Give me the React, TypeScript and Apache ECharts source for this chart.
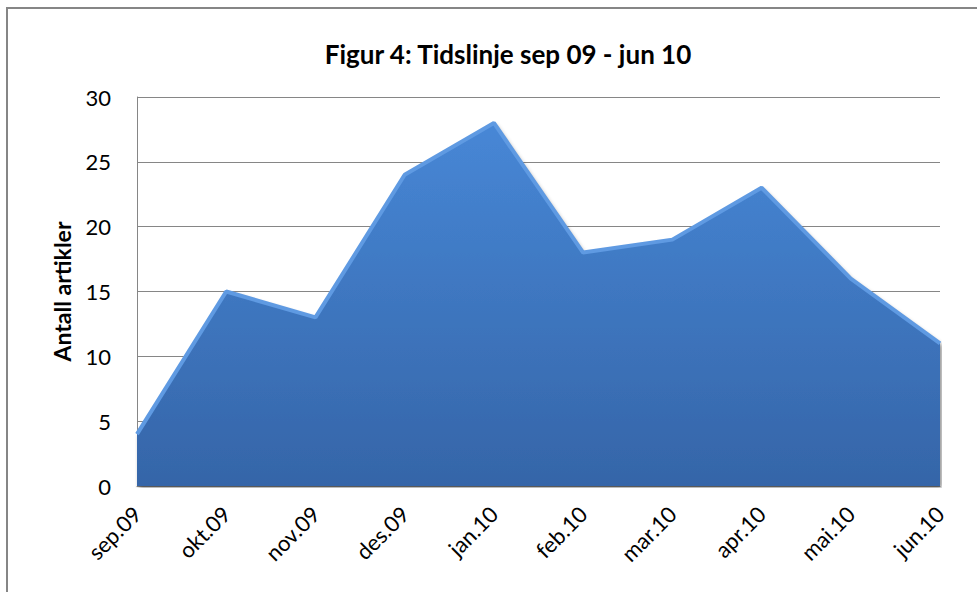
import React, { useEffect, useRef } from "react";
import * as echarts from "echarts";

const categories = ["sep.09", "okt.09", "nov.09", "des.09", "jan.10", "feb.10", "mar.10", "apr.10", "mai.10", "jun.10"];
const values = [4, 15, 13, 24, 28, 18, 19, 23, 16, 11];
const titleText = "Figur 4: Tidslinje sep 09 - jun 10";
const yAxisName = "Antall artikler";

export default function App() {
  const ref = useRef<HTMLDivElement>(null);
  useEffect(() => {
    if (!ref.current) return;
    const chart = echarts.init(ref.current, undefined, { renderer: "svg" });
    chart.setOption({
      animation: false,
      backgroundColor: "#ffffff",
      title: {
        text: titleText,
        left: 503,
        textAlign: "center",
        top: 36,
        textStyle: { fontFamily: "Lato", fontSize: 26, fontWeight: "bold", color: "#000" },
      },
      graphic: [
        {
          type: "rect",
          shape: { x: 7, y: 8, width: 1100, height: 1000 },
          style: { fill: "none", stroke: "#868686", lineWidth: 2 },
          silent: true,
        },
      ],
      grid: { left: 137, right: 37, top: 97, bottom: 106 },
      xAxis: {
        type: "category",
        data: categories,
        boundaryGap: false,
        axisLine: { show: true, lineStyle: { color: "#868686", width: 1 } },
        axisTick: { show: false },
        axisLabel: {
          rotate: 45,
          fontFamily: "Lato",
          fontSize: 22,
          color: "#000",
          margin: 24,
          interval: 0,
        },
      },
      yAxis: {
        type: "value",
        min: 0,
        max: 30,
        interval: 5,
        name: yAxisName,
        nameLocation: "middle",
        nameGap: 64,
        nameTextStyle: { fontFamily: "Lato", fontSize: 23, fontWeight: "bold", color: "#000" },
        axisLine: { show: true, lineStyle: { color: "#868686", width: 1 } },
        axisTick: { show: false },
        splitLine: { lineStyle: { color: "#868686", width: 1 } },
        axisLabel: { fontFamily: "Lato", fontSize: 22, color: "#000", margin: 26 },
      },
      series: [
        {
          type: "line",
          data: values,
          symbol: "none",
          lineStyle: { color: "#5f9ae2", width: 4 },
          areaStyle: {
            opacity: 1,
            color: new echarts.graphic.LinearGradient(0, 0, 0, 1, [
              { offset: 0, color: "#4787d6" },
              { offset: 1, color: "#3565a8" },
            ]),
            shadowColor: "rgba(0,0,0,0.45)",
            shadowBlur: 4,
            shadowOffsetX: 2,
            shadowOffsetY: 2,
          },
        },
      ],
    });
    return () => chart.dispose();
  }, []);
  return <div ref={ref} style={{ width: 977, height: 592, position: "absolute", left: 0, top: 0 }} />;
}
